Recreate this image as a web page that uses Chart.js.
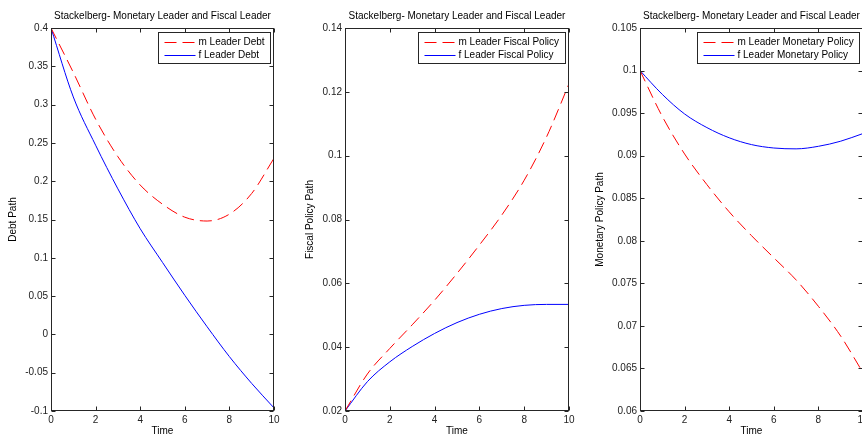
<!DOCTYPE html>
<html>
<head>
<meta charset="utf-8">
<script src="https://cdn.jsdelivr.net/npm/chart.js@4.4.0/dist/chart.umd.min.js"></script>
<style>
html, body { margin: 0; padding: 0; background: #fff; overflow: hidden; width: 862px; height: 435px; }
canvas { position: absolute; top: 0; }
</style>
</head>
<body>
<canvas id="c1" width="290" height="437" style="left:0px"></canvas>
<canvas id="c2" width="290" height="437" style="left:290px"></canvas>
<canvas id="c3" width="300" height="437" style="left:580px"></canvas>
<script>
// shared x values
var time = [0, 1, 2, 3, 4, 5, 6, 7, 8, 9, 10];
var timeTicks = [0, 2, 4, 6, 8, 10];

// panel 1 - debt
var mDebt = [0.4, 0.342, 0.281, 0.232, 0.195, 0.17, 0.153, 0.148, 0.157, 0.184, 0.23];
var fDebt = [0.4, 0.31, 0.247, 0.19, 0.138, 0.094, 0.051, 0.01, -0.029, -0.064, -0.096];
var debtTicks = [-0.1, -0.05, 0, 0.05, 0.1, 0.15, 0.2, 0.25, 0.3, 0.35, 0.4];

// panel 2 - fiscal policy
var mFiscal = [0.02, 0.0316, 0.0396, 0.047, 0.0547, 0.0631, 0.072, 0.0814, 0.0923, 0.1059, 0.1225];
var fFiscal = [0.02, 0.0292, 0.0354, 0.0402, 0.0443, 0.0477, 0.0503, 0.0521, 0.0531, 0.0534, 0.0534];
var fiscalTicks = [0.02, 0.04, 0.06, 0.08, 0.1, 0.12, 0.14];

// panel 3 - monetary policy
var mMonetary = [0.1, 0.0946, 0.0902, 0.0866, 0.0834, 0.0806, 0.078, 0.0754, 0.0723, 0.0688, 0.0645];
var fMonetary = [0.1, 0.0972, 0.0949, 0.0933, 0.0921, 0.0913, 0.0909, 0.0908, 0.0911, 0.0917, 0.0926];
var monetaryTicks = [0.06, 0.065, 0.07, 0.075, 0.08, 0.085, 0.09, 0.095, 0.1, 0.105];

var FONT = "'Liberation Sans', Arial, Helvetica, sans-serif";
var RED = 'rgb(255,0,0)';
var BLUE = 'rgb(0,0,255)';

function pts(ys) {
    return time.map(function (t, i) { return { x: t, y: ys[i] }; });
}

function fmt(v) {
    return String(parseFloat(Number(v).toFixed(4)));
}

// axes box, inward ticks on all sides and a boxed legend, drawn like the original plot
var matlabBox = {
    id: 'matlabBox',
    afterDraw: function (chart) {
        var ctx = chart.ctx, a = chart.chartArea;
        var xs = chart.scales.x, ys = chart.scales.y;
        var L = Math.round(a.left) + 0.5, R = Math.round(a.right) - 0.5;
        var T = Math.round(a.top) + 0.5, B = Math.round(a.bottom) - 0.5;
        ctx.save();
        ctx.strokeStyle = '#262626';
        ctx.lineWidth = 1;
        ctx.setLineDash([]);
        ctx.strokeRect(L, T, R - L, B - T);
        ctx.beginPath();
        xs.ticks.forEach(function (t) {
            var px = Math.round(xs.getPixelForValue(t.value)) + 0.5;
            ctx.moveTo(px, B); ctx.lineTo(px, B - 4);
            ctx.moveTo(px, T); ctx.lineTo(px, T + 4);
        });
        ys.ticks.forEach(function (t) {
            var py = Math.round(ys.getPixelForValue(t.value)) + 0.5;
            ctx.moveTo(L, py); ctx.lineTo(L + 4, py);
            ctx.moveTo(R, py); ctx.lineTo(R - 4, py);
        });
        ctx.stroke();

        // legend
        var ds = chart.data.datasets;
        ctx.font = '10px ' + FONT;
        var tw = 0;
        ds.forEach(function (d) { tw = Math.max(tw, ctx.measureText(d.label).width); });
        var bw = Math.round(6 + 31 + 3 + tw + 6);
        var bx = Math.round(a.right) - 4 - bw + 0.5;
        var by = Math.round(a.top) + 4 + 0.5;
        var bh = 31;
        ctx.fillStyle = '#fff';
        ctx.fillRect(bx, by, bw, bh);
        ctx.strokeStyle = '#262626';
        ctx.strokeRect(bx, by, bw, bh);
        ds.forEach(function (d, i) {
            var cy = by + 9 + i * 13.5;
            ctx.beginPath();
            ctx.strokeStyle = d.borderColor;
            ctx.setLineDash(d.borderDash || []);
            ctx.moveTo(bx + 6, Math.round(cy) + 0.5);
            ctx.lineTo(bx + 37, Math.round(cy) + 0.5);
            ctx.stroke();
            ctx.setLineDash([]);
            ctx.fillStyle = '#000';
            ctx.textBaseline = 'middle';
            ctx.textAlign = 'left';
            ctx.fillText(d.label, bx + 40, cy + 0.5);
        });
        ctx.restore();
    }
};

function makePanel(id, yWidth, padRight, yTitle, yTicks, labels, seriesM, seriesF) {
    var ctx = document.getElementById(id).getContext('2d');
    return new Chart(ctx, {
        type: 'line',
        data: {
            datasets: [{
                label: labels[0],
                data: pts(seriesM),
                borderColor: RED,
                borderWidth: 1,
                borderDash: [12, 6],
                pointRadius: 0,
                cubicInterpolationMode: 'monotone',
                fill: false
            }, {
                label: labels[1],
                data: pts(seriesF),
                borderColor: BLUE,
                borderWidth: 1,
                pointRadius: 0,
                cubicInterpolationMode: 'monotone',
                fill: false
            }]
        },
        options: {
            responsive: false,
            animation: false,
            devicePixelRatio: 1,
            layout: { padding: { left: 0, right: padRight, top: 0, bottom: 0 } },
            plugins: {
                legend: { display: false },
                tooltip: { enabled: false },
                title: {
                    display: true,
                    fullSize: false,
                    text: 'Stackelberg- Monetary Leader and Fiscal Leader',
                    color: '#000',
                    font: { family: FONT, size: 10, weight: 'normal', lineHeight: '12px' },
                    padding: { top: 10, bottom: 6 }
                }
            },
            scales: {
                x: {
                    type: 'linear',
                    min: 0,
                    max: 10,
                    afterBuildTicks: function (s) { s.ticks = timeTicks.map(function (v) { return { value: v }; }); },
                    afterFit: function (s) { s.height = 26; },
                    grid: { display: false, drawTicks: false },
                    border: { display: false },
                    ticks: { padding: 3, color: '#222', font: { family: FONT, size: 10 }, maxRotation: 0, callback: fmt },
                    title: { display: true, text: 'Time', color: '#000', font: { family: FONT, size: 10, lineHeight: '12px' }, padding: { top: 0, bottom: 0 } }
                },
                y: {
                    type: 'linear',
                    min: yTicks[0],
                    max: yTicks[yTicks.length - 1],
                    afterBuildTicks: function (s) { s.ticks = yTicks.map(function (v) { return { value: v }; }); },
                    afterFit: function (s) { s.width = yWidth; },
                    grid: { display: false, drawTicks: false },
                    border: { display: false },
                    ticks: { padding: 3, color: '#222', font: { family: FONT, size: 10 }, callback: fmt },
                    title: { display: true, text: yTitle, color: '#000', font: { family: FONT, size: 10, lineHeight: '12px' }, padding: { top: yWidth > 52 ? 14 : 7, bottom: 0 } }
                }
            }
        },
        plugins: [matlabBox]
    });
}

makePanel('c1', 51, 16, 'Debt Path', debtTicks, ['m Leader Debt', 'f Leader Debt'], mDebt, fDebt);
makePanel('c2', 55, 11, 'Fiscal Policy Path', fiscalTicks, ['m Leader Fiscal Policy', 'f Leader Fiscal Policy'], mFiscal, fFiscal);
makePanel('c3', 60, 17, 'Monetary Policy Path', monetaryTicks, ['m Leader Monetary Policy', 'f Leader Monetary Policy'], mMonetary, fMonetary);
</script>
</body>
</html>
